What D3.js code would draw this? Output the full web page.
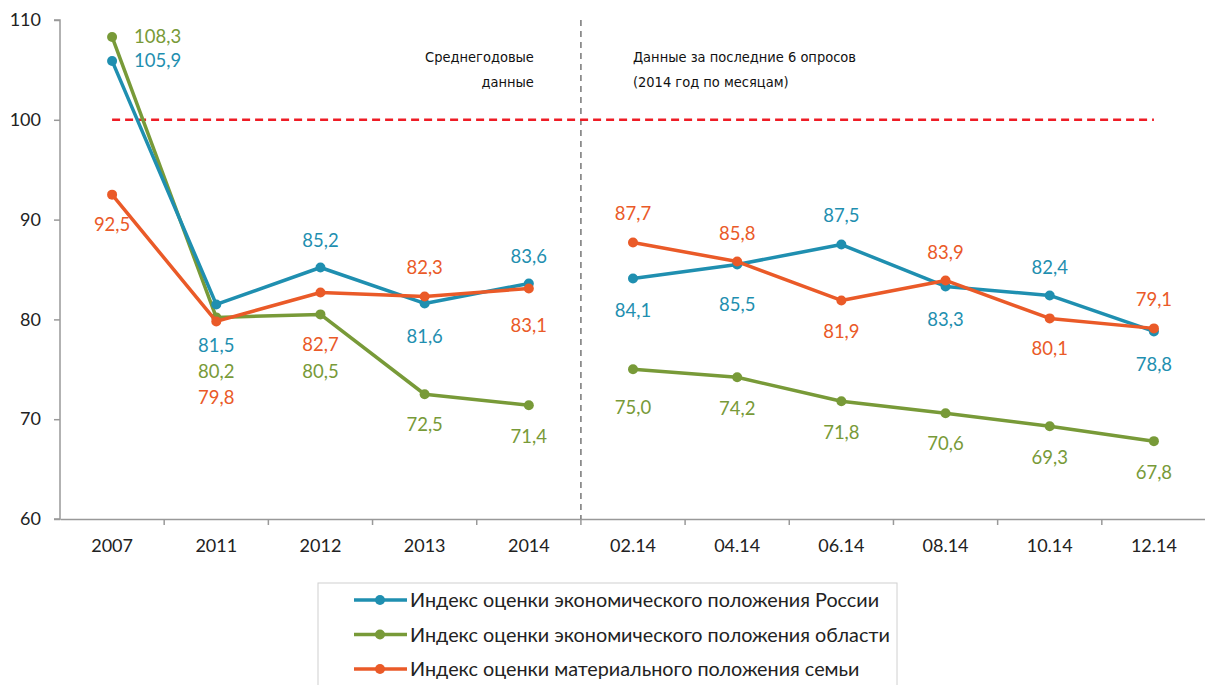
<!DOCTYPE html>
<html lang="ru">
<head>
  <meta charset="UTF-8">
  <title>Индексы оценки положения</title>
  <script src="https://d3js.org/d3.v7.min.js"></script>
  <style>
    body {
      margin: 0;
      background: #fff;
      font-family: Lato, "Open Sans", sans-serif;
    }
    .tick text {
      font-family: Lato, sans-serif;
      font-size: 18px;
      fill: #222;
    }
    .note {
      font-family: "Liberation Sans Narrow", "DejaVu Sans Condensed", sans-serif;
      font-size: 14.5px;
      fill: #111;
    }
    .val {
      font-size: 18.5px;
    }
    .legend-text {
      font-size: 19.8px;
      fill: #222;
    }
  </style>
</head>
<body>
<div id="chart"></div>
<script>
  const categories = ["2007", "2011", "2012", "2013", "2014", "02.14", "04.14", "06.14", "08.14", "10.14", "12.14"];
  const yTicks = [60, 70, 80, 90, 100, 110];

  const russia = [105.9, 81.5, 85.2, 81.6, 83.6, 84.1, 85.5, 87.5, 83.3, 82.4, 78.8];
  const region = [108.3, 80.2, 80.5, 72.5, 71.4, 75.0, 74.2, 71.8, 70.6, 69.3, 67.8];
  const family = [92.5, 79.8, 82.7, 82.3, 83.1, 87.7, 85.8, 81.9, 83.9, 80.1, 79.1];

  const seriesNames = [
    "Индекс оценки экономического положения России",
    "Индекс оценки экономического положения области",
    "Индекс оценки материального положения семьи"
  ];

  // where the value labels sit relative to their point (px); first two series put 2007 to the right
  const russiaLabelDy = [0, 41, -27, 33, -27, 32, 40, -29, 33, -28, 33];
  const regionLabelDy = [0, 54, 57, 30, 31, 38, 31, 31, 30, 31, 31];
  const familyLabelDy = [30, 76, 52, -29, 37, -29, -28, 31, -28, 30, -29];

  const series = [
    {name: seriesNames[0], values: russia, dy: russiaLabelDy, color: "#1f8fb0", side: true},
    {name: seriesNames[1], values: region, dy: regionLabelDy, color: "#789a38", side: true},
    {name: seriesNames[2], values: family, dy: familyLabelDy, color: "#ea5a28", side: false}
  ];

  const W = 1205, H = 685;
  const left = 60, plotTop = 20, plotBottom = 519;

  const svg = d3.select("#chart").append("svg")
    .attr("width", W).attr("height", H);

  const x = d3.scaleBand().domain(categories).range([left, 1206]).padding(0);
  const cx = c => x(c) + x.bandwidth() / 2;
  const y = d3.scaleLinear().domain([60, 110]).range([plotBottom, plotTop]);

  // axes
  const yAxis = svg.append("g")
    .attr("transform", `translate(${left},0)`)
    .call(d3.axisLeft(y).tickValues(yTicks).tickSize(6));
  const xAxis = svg.append("g")
    .attr("transform", `translate(0,${plotBottom})`)
    .call(d3.axisBottom(x).tickSize(0).tickPadding(20));
  [yAxis, xAxis].forEach(g => {
    g.select(".domain").attr("stroke", "#999").attr("stroke-width", 1.5);
    g.selectAll(".tick line").attr("stroke", "#999").attr("stroke-width", 1.5);
  });
  yAxis.selectAll(".tick text").attr("x", -19);
  yAxis.select(".domain").attr("d", `M-6,${plotTop}H0V${plotBottom}H-6`);

  // x tick marks at the band boundaries
  xAxis.selectAll("line.bound")
    .data(categories.slice(1))
    .enter().append("line")
    .attr("class", "bound")
    .attr("x1", d => x(d)).attr("x2", d => x(d))
    .attr("y1", 0).attr("y2", 6)
    .attr("stroke", "#999").attr("stroke-width", 1.5);

  // split line between yearly and monthly data
  const splitX = x("02.14");
  svg.append("line")
    .attr("x1", splitX).attr("x2", splitX)
    .attr("y1", plotTop).attr("y2", plotBottom)
    .attr("stroke", "#777").attr("stroke-width", 1.5)
    .attr("stroke-dasharray", "6,5");

  // reference line at 100
  svg.append("line")
    .attr("x1", cx("2007")).attr("x2", cx("12.14"))
    .attr("y1", y(100)).attr("y2", y(100))
    .attr("stroke", "#ee1c25").attr("stroke-width", 2.5)
    .attr("stroke-dasharray", "8,5");

  // notes
  svg.append("text").attr("class", "note")
    .attr("x", splitX - 47).attr("y", 62).attr("text-anchor", "end")
    .text("Среднегодовые");
  svg.append("text").attr("class", "note")
    .attr("x", splitX - 47).attr("y", 87).attr("text-anchor", "end")
    .text("данные");
  svg.append("text").attr("class", "note")
    .attr("x", splitX + 52).attr("y", 62)
    .text("Данные за последние 6 опросов");
  svg.append("text").attr("class", "note")
    .attr("x", splitX + 52).attr("y", 87)
    .text("(2014 год по месяцам)");

  // lines: yearly part and monthly part are not joined
  const line = d3.line().x(d => cx(d.c)).y(d => y(d.v));
  const fmt = v => v.toFixed(1).replace(".", ",");

  // draw region first so others sit on top, matching the reference
  [series[1], series[0], series[2]].forEach(s => {
    const pts = categories.map((c, i) => ({c: c, v: s.values[i]}));
    [pts.slice(0, 5), pts.slice(5)].forEach(part => {
      svg.append("path")
        .datum(part)
        .attr("d", line)
        .attr("fill", "none")
        .attr("stroke", s.color)
        .attr("stroke-width", 3.5)
        .attr("stroke-linejoin", "round");
    });
    svg.selectAll(null)
      .data(pts)
      .enter().append("circle")
      .attr("cx", d => cx(d.c))
      .attr("cy", d => y(d.v))
      .attr("r", 5)
      .attr("fill", s.color);
  });

  series.forEach(s => {
    const pts = categories.map((c, i) => ({c: c, v: s.values[i], dy: s.dy[i], i: i}));
    const toSide = d => d.i === 0 && s.side;
    svg.selectAll(null)
      .data(pts)
      .enter().append("text")
      .attr("class", "val")
      .attr("fill", s.color)
      .attr("text-anchor", d => toSide(d) ? "start" : "middle")
      .attr("x", d => toSide(d) ? cx(d.c) + 22 : cx(d.c))
      .attr("y", d => y(d.v) + d.dy + 6.5)
      .text(d => fmt(d.v));
  });

  // legend
  const lg = svg.append("g").attr("transform", "translate(318,583)");
  lg.append("rect")
    .attr("x", 0).attr("y", 0).attr("width", 579).attr("height", 110)
    .attr("fill", "#fff").attr("stroke", "#d0d0d0").attr("stroke-width", 1);
  series.forEach((s, i) => {
    const row = lg.append("g").attr("transform", `translate(0,${17 + i * 34.5})`);
    row.append("line")
      .attr("x1", 36).attr("x2", 89).attr("y1", 0).attr("y2", 0)
      .attr("stroke", s.color).attr("stroke-width", 3.5);
    row.append("circle").attr("cx", 62).attr("cy", 0).attr("r", 5).attr("fill", s.color);
    row.append("text").attr("class", "legend-text")
      .attr("x", 92).attr("y", 7).text(s.name);
  });
</script>
</body>
</html>
